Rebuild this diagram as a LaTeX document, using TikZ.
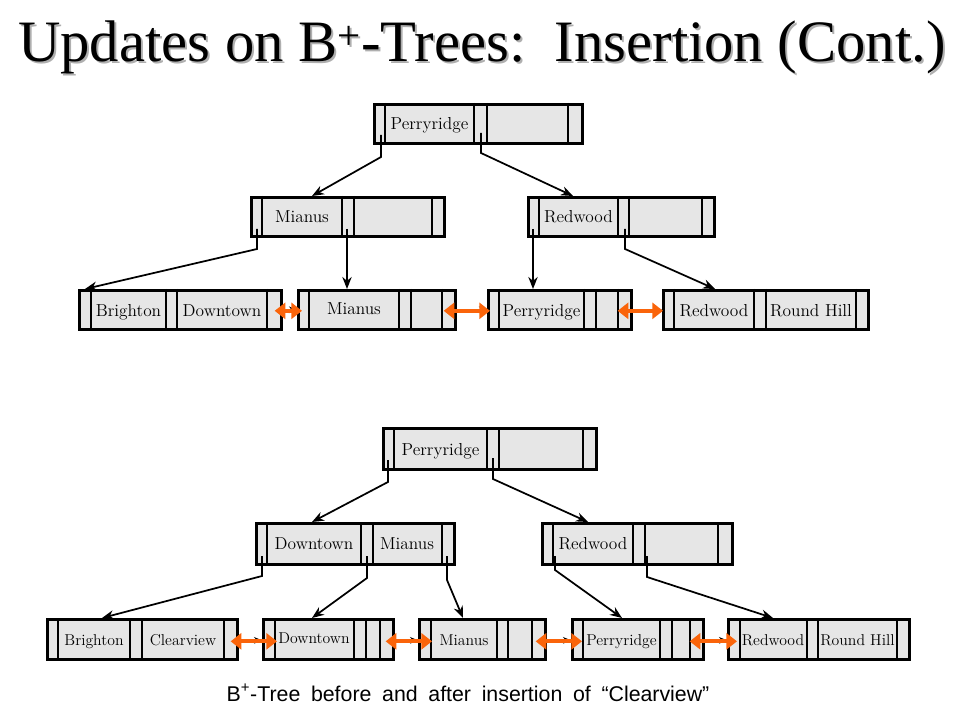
\documentclass[tikz,border=0pt]{standalone}
\usepackage{fontspec}
\usepackage{tikz}
\usetikzlibrary{arrows.meta}
\usetikzlibrary{calc}
\usepackage{xcolor}
\newfontfamily\titlefont{Liberation Serif}
\newfontfamily\capfont{Liberation Sans}

\begin{document}
\begin{tikzpicture}[x=0.75pt,y=0.75pt,yscale=-1,xscale=1,
  bbox/.style={draw, line width=2pt, fill={rgb, 255:red, 230; green, 230; blue, 230}, anchor=north west, inner sep=0pt, minimum height=39*0.75pt},
  sep/.style={line width=1.6pt},
  key/.style={anchor=base, inner sep=0.75pt, font=\fontsize{13}{15}\selectfont},
  smallkey/.style={key, font=\fontsize{11.8}{14}\selectfont},
  ptr/.style={line width=1.3pt, -{Stealth[length=9pt,width=7pt]}},
  nxt/.style={line width=0.8pt, -{Stealth[length=6pt,width=5pt]}},
  lnk/.style={line width=3.2pt, draw={rgb, 255:red, 250; green, 100; blue, 10}, {Triangle[length=8pt,width=12pt]}-{Triangle[length=8pt,width=12pt]}}
]
\path[use as bounding box, fill=white] (0,0) rectangle (960,720);

% Text Node
\node[anchor=base, text={rgb, 255:red, 175; green, 175; blue, 175}, font={\titlefont\fontsize{44}{50}\selectfont}] (titlesh) at (484,64) {Updates on B\textsuperscript{+}-Trees:\ \ Insertion (Cont.)};
% Text Node
\node[anchor=base, font={\titlefont\fontsize{44}{50}\selectfont}] (title) at (482,62) {Updates on B\textsuperscript{+}-Trees:\ \ Insertion (Cont.)};

%%%% before insertion
%Shape: Rectangle
\node[bbox, minimum width=208*0.75pt] (root1) at (373,103) {};
\draw[sep] (385,103) -- (385,142) (474,103) -- (474,142) (487,103) -- (487,142) (568,103) -- (568,142);
%Shape: Rectangle
\node[bbox, minimum width=193*0.75pt] (mid1a) at (250,196) {};
\draw[sep] (262,196) -- (262,235) (342,196) -- (342,235) (354,196) -- (354,235) (432,196) -- (432,235);
%Shape: Rectangle
\node[bbox, minimum width=186*0.75pt] (mid1b) at (527,196) {};
\draw[sep] (539,196) -- (539,235) (618,196) -- (618,235) (629,196) -- (629,235) (702,196) -- (702,235);
%Shape: Rectangle
\node[bbox, minimum width=202*0.75pt] (leaf1a) at (78,289) {};
\draw[sep] (91,289) -- (91,328) (166,289) -- (166,328) (177,289) -- (177,328) (267,289) -- (267,328);
%Shape: Rectangle
\node[bbox, minimum width=157*0.75pt] (leaf1b) at (297,289) {};
\draw[sep] (309,289) -- (309,328) (399,289) -- (399,328) (411,289) -- (411,328) (442,289) -- (442,328);
%Shape: Rectangle
\node[bbox, minimum width=143*0.75pt] (leaf1c) at (487,289) {};
\draw[sep] (499,289) -- (499,328) (584,289) -- (584,328) (596,289) -- (596,328) (618,289) -- (618,328);
%Shape: Rectangle
\node[bbox, minimum width=205*0.75pt] (leaf1d) at (662,289) {};
\draw[sep] (674,289) -- (674,328) (754,289) -- (754,328) (766,289) -- (766,328) (856,289) -- (856,328);

% Text Node
\node[key] (k1root) at (429.5,130) {Perryridge};
\node[key] (k1mia) at (302,223) {Mianus};
\node[key] (k1red) at (578.5,223) {Redwood};
\node[key] (k1bri) at (128.5,316) {Brighton};
\node[key] (k1dow) at (222,316) {Downtown};
\node[key] (k1mib) at (354,315) {Mianus};
\node[key] (k1per) at (541.5,316) {Perryridge};
\node[key] (k1rdw) at (714,316) {Redwood};
\node[key] (k1rnd) at (811,316) {Round Hill};

%Straight Lines
\coordinate (r1p1) at (381,135);
\coordinate (r1p2) at (481,133);
\coordinate (m1ap1) at (257,229);
\coordinate (m1ap2) at (347,229);
\coordinate (m1bp1) at (533,229);
\coordinate (m1bp2) at (625,229);
\draw[ptr] (r1p1) -- ++(0,22) -- ($(mid1a.north west)+(62,0)$);
\draw[ptr] (r1p2) -- ++(0,20) -- ($(mid1b.north west)+(46,0)$);
\draw[ptr] (m1ap1) -- ++(0,20) -- ($(leaf1a.north west)+(7,0)$);
\draw[ptr] (m1ap2) -- ($(leaf1b.north west)+(50,0)$);
\draw[ptr] (m1bp1) -- ($(leaf1c.north west)+(46,0)$);
\draw[ptr] (m1bp2) -- ++(0,20) -- ($(leaf1d.north west)+(53,0)$);

%Straight Lines
\draw[nxt] ($(leaf1a.east)+(-6,0)$) -- ($(leaf1b.west)+(0,0)$);
\draw[nxt] ($(leaf1b.east)+(-6,0)$) -- ($(leaf1c.west)+(0,0)$);
\draw[nxt] ($(leaf1c.east)+(-6,0)$) -- ($(leaf1d.west)+(0,0)$);
\draw[lnk] ($(leaf1a.east)+(-8,1)$) -- ($(leaf1b.west)+(5,1)$);
\draw[lnk] ($(leaf1b.east)+(-13,1)$) -- ($(leaf1c.west)+(3,1)$);
\draw[lnk] ($(leaf1c.east)+(-15,1)$) -- ($(leaf1d.west)+(1,1)$);

%%%% after insertion
%Shape: Rectangle
\node[bbox, minimum width=213*0.75pt, minimum height=41*0.75pt] (root2) at (382,427) {};
\draw[sep] (394,427) -- (394,468) (487,427) -- (487,468) (499,427) -- (499,468) (583,427) -- (583,468);
%Shape: Rectangle
\node[bbox, minimum width=198*0.75pt, minimum height=41*0.75pt] (mid2a) at (255,522) {};
\draw[sep] (267,522) -- (267,563) (361,522) -- (361,563) (373,522) -- (373,563) (442,522) -- (442,563);
%Shape: Rectangle
\node[bbox, minimum width=190*0.75pt, minimum height=41*0.75pt] (mid2b) at (541,522) {};
\draw[sep] (553,522) -- (553,563) (633,522) -- (633,563) (645,522) -- (645,563) (718,522) -- (718,563);
%Shape: Rectangle
\node[bbox, minimum width=190*0.75pt, minimum height=40*0.75pt] (leaf2a) at (46,618) {};
\draw[sep] (58,618) -- (58,658) (130,618) -- (130,658) (142,618) -- (142,658) (224,618) -- (224,658);
%Shape: Rectangle
\node[bbox, minimum width=130*0.75pt, minimum height=40*0.75pt] (leaf2b) at (262,618) {};
\draw[sep] (275,618) -- (275,658) (354,618) -- (354,658) (366,618) -- (366,658) (380,618) -- (380,658);
%Shape: Rectangle
\node[bbox, minimum width=126*0.75pt, minimum height=40*0.75pt] (leaf2c) at (418,618) {};
\draw[sep] (431,618) -- (431,658) (497,618) -- (497,658) (508,618) -- (508,658) (532,618) -- (532,658);
%Shape: Rectangle
\node[bbox, minimum width=131*0.75pt, minimum height=40*0.75pt] (leaf2d) at (571,618) {};
\draw[sep] (583,618) -- (583,658) (660,618) -- (660,658) (672,618) -- (672,658) (690,618) -- (690,658);
%Shape: Rectangle
\node[bbox, minimum width=181*0.75pt, minimum height=40*0.75pt] (leaf2e) at (727,618) {};
\draw[sep] (740,618) -- (740,658) (807,618) -- (807,658) (818,618) -- (818,658) (897,618) -- (897,658);

% Text Node
\node[key] (k2root) at (440.5,455) {Perryridge};
\node[key] (k2dow) at (314,549) {Downtown};
\node[key] (k2mia) at (407,549) {Mianus};
\node[key] (k2red) at (593,549) {Redwood};
\node[smallkey] (k2bri) at (94,645) {Brighton};
\node[smallkey] (k2clr) at (183,645) {Clearview};
\node[smallkey] (k2dwl) at (314,643) {Downtown};
\node[smallkey] (k2mil) at (464,645) {Mianus};
\node[smallkey] (k2per) at (621.5,645) {Perryridge};
\node[smallkey] (k2rdw) at (773,645) {Redwood};
\node[smallkey] (k2rnd) at (857.5,645) {Round Hill};

%Straight Lines
\coordinate (r2p1) at (388,460);
\coordinate (r2p2) at (493,458);
\coordinate (m2ap1) at (262,556);
\coordinate (m2ap2) at (367,556);
\coordinate (m2ap3) at (447,556);
\coordinate (m2bp1) at (555,556);
\coordinate (m2bp2) at (647,556);
\draw[ptr] (r2p1) -- ++(0,22) -- ($(mid2a.north west)+(57,0)$);
\draw[ptr] (r2p2) -- ++(0,21) -- ($(mid2b.north west)+(47,0)$);
\draw[ptr] (m2ap1) -- ++(0,20) -- ($(leaf2a.north west)+(56,0)$);
\draw[ptr] (m2ap2) -- ++(0,22) -- ($(leaf2b.north west)+(50,0)$);
\draw[ptr] (m2ap3) -- ++(0,24) -- ($(leaf2c.north west)+(45,0)$);
\draw[ptr] (m2bp1) -- ++(0,14) -- ($(leaf2d.north west)+(51,0)$);
\draw[ptr] (m2bp2) -- ++(0,21) -- ($(leaf2e.north west)+(46,0)$);

%Straight Lines
\draw[nxt] ($(leaf2a.east)+(-6,1)$) -- ($(leaf2b.west)+(0,1)$);
\draw[nxt] ($(leaf2b.east)+(-6,1)$) -- ($(leaf2c.west)+(0,1)$);
\draw[nxt] ($(leaf2c.east)+(-6,1)$) -- ($(leaf2d.west)+(0,1)$);
\draw[nxt] ($(leaf2d.east)+(-6,1)$) -- ($(leaf2e.west)+(0,1)$);
\draw[lnk] ($(leaf2a.east)+(-8,2)$) -- ($(leaf2b.west)+(15,2)$);
\draw[lnk] ($(leaf2b.east)+(-9,2)$) -- ($(leaf2c.west)+(14,2)$);
\draw[lnk] ($(leaf2c.east)+(-11,2)$) -- ($(leaf2d.west)+(11,2)$);
\draw[lnk] ($(leaf2d.east)+(-15,2)$) -- ($(leaf2e.west)+(10,2)$);

% Text Node
\node[anchor=base, font={\capfont\fontsize{16}{18}\selectfont\spaceskip=0.5em}] (caption) at (468,701) {B\textsuperscript{+}-Tree before and after insertion of “Clearview”};

\end{tikzpicture}
\end{document}
